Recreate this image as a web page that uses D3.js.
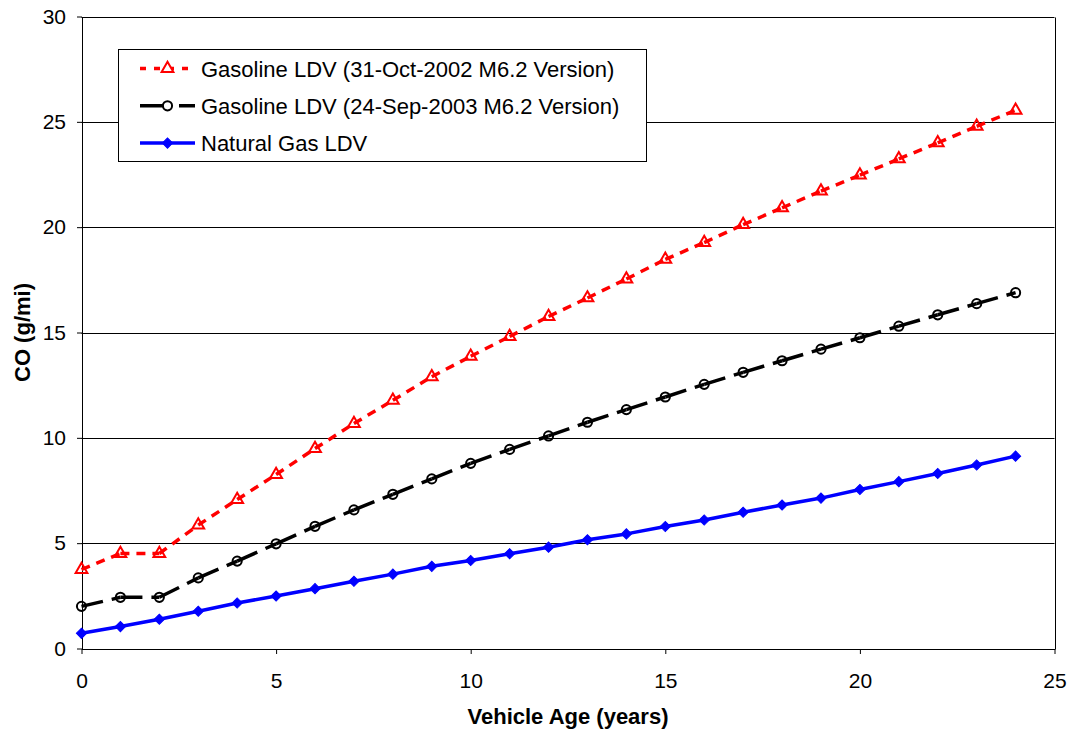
<!DOCTYPE html>
<html>
<head>
<meta charset="utf-8">
<script src="https://cdn.jsdelivr.net/npm/d3@7"></script>
<style>
body { margin: 0; background: #fff; }
svg { display: block; font-family: Arial, "Liberation Sans", sans-serif; }
</style>
</head>
<body>
<svg width="1069" height="729"></svg>
<script>
// vehicle age, years
const years = [0, 1, 2, 3, 4, 5, 6, 7, 8, 9, 10, 11, 12, 13, 14, 15, 16, 17, 18, 19, 20, 21, 22, 23, 24]

// CO g/mi
const gasoline2002 = [3.75, 4.51, 4.51, 5.86, 7.07, 8.26, 9.49, 10.68, 11.78, 12.9, 13.87, 14.81, 15.76, 16.64, 17.54, 18.47, 19.27, 20.12, 20.92, 21.71, 22.47, 23.24, 24.0, 24.79, 25.55]
const gasoline2003 = [2.0, 2.43, 2.43, 3.35, 4.15, 4.97, 5.8, 6.58, 7.32, 8.05, 8.79, 9.45, 10.09, 10.74, 11.34, 11.94, 12.54, 13.11, 13.66, 14.21, 14.75, 15.3, 15.84, 16.37, 16.89]
const naturalGas = [0.72, 1.04, 1.39, 1.77, 2.16, 2.49, 2.84, 3.19, 3.53, 3.9, 4.18, 4.5, 4.81, 5.16, 5.44, 5.79, 6.1, 6.47, 6.81, 7.14, 7.55, 7.92, 8.31, 8.71, 9.13]

const seriesNames = ["Gasoline LDV (31-Oct-2002 M6.2 Version)", "Gasoline LDV (24-Sep-2003 M6.2 Version)", "Natural Gas LDV"]

const xTicks = [0, 5, 10, 15, 20, 25]
const yTicks = [0, 5, 10, 15, 20, 25, 30]

const plotLeft = 81.5
const plotRight = 1054.5
const plotTop = 16.5
const plotBottom = 648.5

const svg = d3.select("svg")

const xScale = d3.scaleLinear()
    .domain([0, 25])
    .range([plotLeft, plotRight])

const yScale = d3.scaleLinear()
    .domain([0, 30])
    .range([plotBottom, plotTop])

const crisp = v => Math.round(v) + 0.5

// gridlines
svg.append("g")
    .selectAll("line")
    .data(yTicks.slice(1))
    .join("line")
    .attr("x1", plotLeft)
    .attr("x2", plotRight)
    .attr("y1", d => crisp(yScale(d)))
    .attr("y2", d => crisp(yScale(d)))
    .attr("stroke", "#000")
    .attr("stroke-width", 1)

// right border of plot area
svg.append("line")
    .attr("x1", crisp(plotRight)).attr("x2", crisp(plotRight))
    .attr("y1", crisp(plotTop)).attr("y2", crisp(plotBottom))
    .attr("stroke", "#000")

// axes
const axisLeft = d3.axisLeft(yScale)
    .tickValues(yTicks)
    .tickSize(5)
    .tickSizeOuter(0)
    .tickPadding(11)

const axisBottom = d3.axisBottom(xScale)
    .tickValues(xTicks)
    .tickSize(5)
    .tickSizeOuter(0)
    .tickPadding(19)

const gy = svg.append("g")
    .attr("transform", `translate(${crisp(plotLeft) - 0.5}, 0)`)
    .call(axisLeft)

const gx = svg.append("g")
    .attr("transform", `translate(0, ${crisp(plotBottom) - 0.5})`)
    .call(axisBottom)

for (const g of [gx, gy]) {
    g.attr("font-family", null).attr("font-size", 21)
    g.selectAll("text").attr("fill", "#000")
    g.selectAll("line, path").attr("stroke", "#000")
}

// axis titles
svg.append("text")
    .attr("x", (plotLeft + plotRight) / 2)
    .attr("y", 724)
    .attr("text-anchor", "middle")
    .attr("font-size", 22)
    .attr("font-weight", "bold")
    .text("Vehicle Age (years)")

svg.append("text")
    .attr("transform", `translate(30, ${(plotTop + plotBottom) / 2}) rotate(-90)`)
    .attr("text-anchor", "middle")
    .attr("font-size", 22)
    .attr("font-weight", "bold")
    .text("CO (g/mi)")

// series
const series = [
    { name: seriesNames[0], values: gasoline2002, color: "#ff0000", dash: "9,7", legendDash: "6,8", symbol: d3.symbolTriangle, size: 60, fill: "none", rotate: 0 },
    { name: seriesNames[1], values: gasoline2003, color: "#000000", dash: "22,9", legendDash: "24,15", symbol: d3.symbolCircle, size: 66, fill: "none", rotate: 0 },
    { name: seriesNames[2], values: naturalGas, color: "#0000ff", dash: null, legendDash: null, symbol: d3.symbolSquare, size: 52, fill: "#0000ff", rotate: 45 }
]

series.forEach(s => {
    const pts = years.map((y, i) => [xScale(y), yScale(s.values[i])])
    const g = svg.append("g")

    // Excel restarts the dash on each segment
    g.selectAll("line")
        .data(d3.pairs(pts))
        .join("line")
        .attr("x1", d => d[0][0])
        .attr("y1", d => d[0][1])
        .attr("x2", d => d[1][0])
        .attr("y2", d => d[1][1])
        .attr("stroke", s.color)
        .attr("stroke-width", 3.5)
        .attr("stroke-dasharray", s.dash)

    g.selectAll("path")
        .data(pts)
        .join("path")
        .attr("d", d3.symbol(s.symbol, s.size))
        .attr("transform", d => `translate(${d[0]}, ${d[1]}) rotate(${s.rotate})`)
        .attr("fill", s.fill)
        .attr("stroke", s.color)
        .attr("stroke-width", s.fill === "none" ? 2 : 1)
})

// legend
const legend = svg.append("g")

legend.append("rect")
    .attr("x", 118.5)
    .attr("y", 49.5)
    .attr("width", 528)
    .attr("height", 112)
    .attr("fill", "#fff")
    .attr("stroke", "#000")

series.forEach((s, i) => {
    const cy = 68.5 + i * 37.3

    legend.append("line")
        .attr("x1", 140)
        .attr("x2", 195)
        .attr("y1", cy)
        .attr("y2", cy)
        .attr("stroke", s.color)
        .attr("stroke-width", 3.5)
        .attr("stroke-dasharray", s.legendDash)

    legend.append("path")
        .attr("d", d3.symbol(s.symbol, s.size))
        .attr("transform", `translate(167.5, ${cy}) rotate(${s.rotate})`)
        .attr("fill", s.fill === "none" ? "#fff" : s.fill)
        .attr("stroke", s.color)
        .attr("stroke-width", s.fill === "none" ? 2 : 1)

    legend.append("text")
        .attr("x", 201)
        .attr("y", cy + 8)
        .attr("font-size", 22)
        .text(s.name)
})
</script>
</body>
</html>
